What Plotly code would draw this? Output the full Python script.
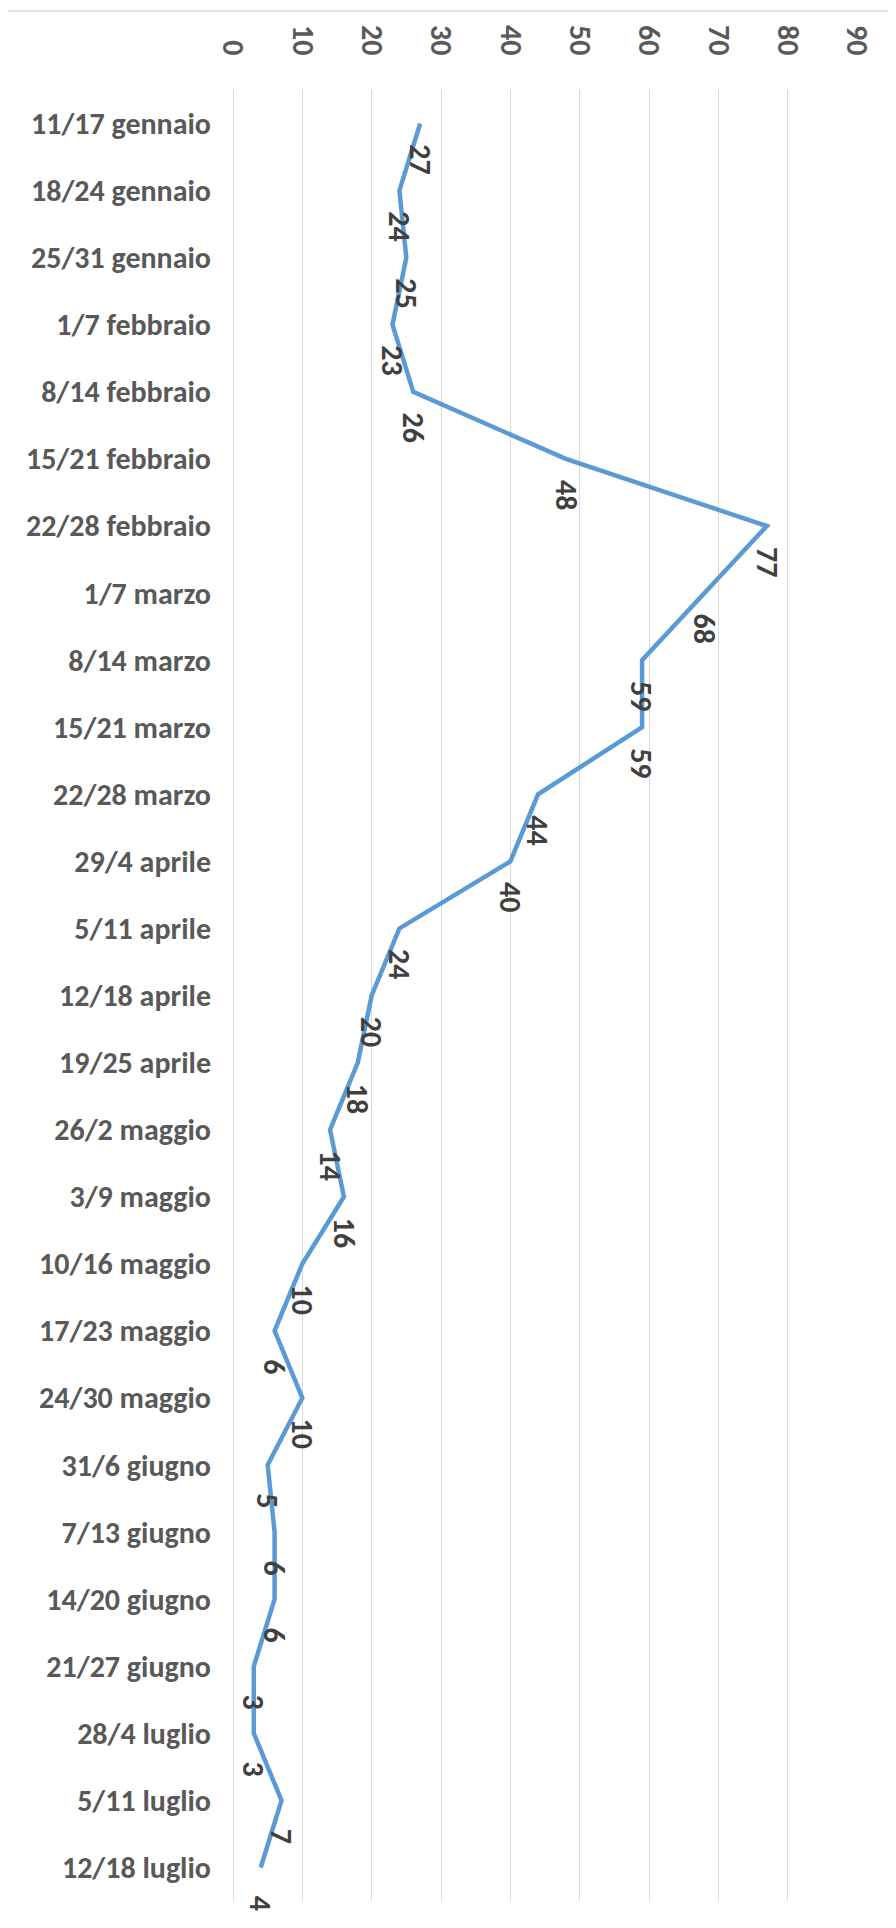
import plotly.graph_objects as go

# weekly periods (top to bottom) and counts
weeks = [
    '11/17 gennaio', '18/24 gennaio', '25/31 gennaio', '1/7 febbraio',
    '8/14 febbraio', '15/21 febbraio', '22/28 febbraio', '1/7 marzo',
    '8/14 marzo', '15/21 marzo', '22/28 marzo', '29/4 aprile',
    '5/11 aprile', '12/18 aprile', '19/25 aprile', '26/2 maggio',
    '3/9 maggio', '10/16 maggio', '17/23 maggio', '24/30 maggio',
    '31/6 giugno', '7/13 giugno', '14/20 giugno', '21/27 giugno',
    '28/4 luglio', '5/11 luglio', '12/18 luglio'
]
counts = [27, 24, 25, 23, 26, 48, 77, 68, 59, 59, 44, 40, 24, 20, 18,
          14, 16, 10, 6, 10, 5, 6, 6, 3, 3, 7, 4]
value_ticks = [0, 10, 20, 30, 40, 50, 60, 70, 80, 90]

font_family = "Carlito, Lato, sans-serif"
label_grey = '#595959'
grid_grey = '#D9D9D9'

fig = go.Figure()

fig.add_trace(go.Scatter(
    x=counts,
    y=weeks,
    mode='lines',
    line=dict(color='#5B9BD5', width=4.5),
    showlegend=False,
    hoverinfo='x+y'
))

# data labels, rotated like the rest of the chart
for week, n in zip(weeks, counts):
    fig.add_annotation(
        x=n, y=week,
        text=str(n),
        textangle=90,
        showarrow=False,
        yshift=-36,
        font=dict(family=font_family, size=30, color='#404040', weight='bold')
    )

# light chart-area border (top and right edges are visible)
fig.add_shape(
    type='rect', xref='paper', yref='paper',
    x0=-1, x1=1.0529, y0=-0.1, y1=1.0436,
    line=dict(color=grid_grey, width=1.5),
    fillcolor='rgba(0,0,0,0)',
    layer='below'
)

# page body has an 8px margin, so the figure is sized/offset for that
fig.update_layout(
    width=888,
    height=1920,
    margin=dict(l=225, r=39, t=82, b=27),
    plot_bgcolor='white',
    paper_bgcolor='white',
    font=dict(family=font_family, color=label_grey),
    xaxis=dict(
        side='top',
        range=[0, 90],
        tickvals=value_ticks,
        tickangle=90,
        ticklabelstandoff=29,
        tickfont=dict(size=30, color=label_grey, weight='bold'),
        showgrid=True,
        gridcolor=grid_grey,
        gridwidth=1.3,
        zeroline=True,
        zerolinecolor=grid_grey,
        zerolinewidth=1.3,
        showline=False,
        ticks=''
    ),
    yaxis=dict(
        type='category',
        categoryorder='array',
        categoryarray=weeks,
        range=[len(weeks) - 0.5, -0.5],
        tickfont=dict(size=30, color=label_grey, weight='bold'),
        ticklabelstandoff=21,
        showgrid=False,
        zeroline=False,
        showline=False,
        ticks=''
    )
)

fig.write_html("out.html")
